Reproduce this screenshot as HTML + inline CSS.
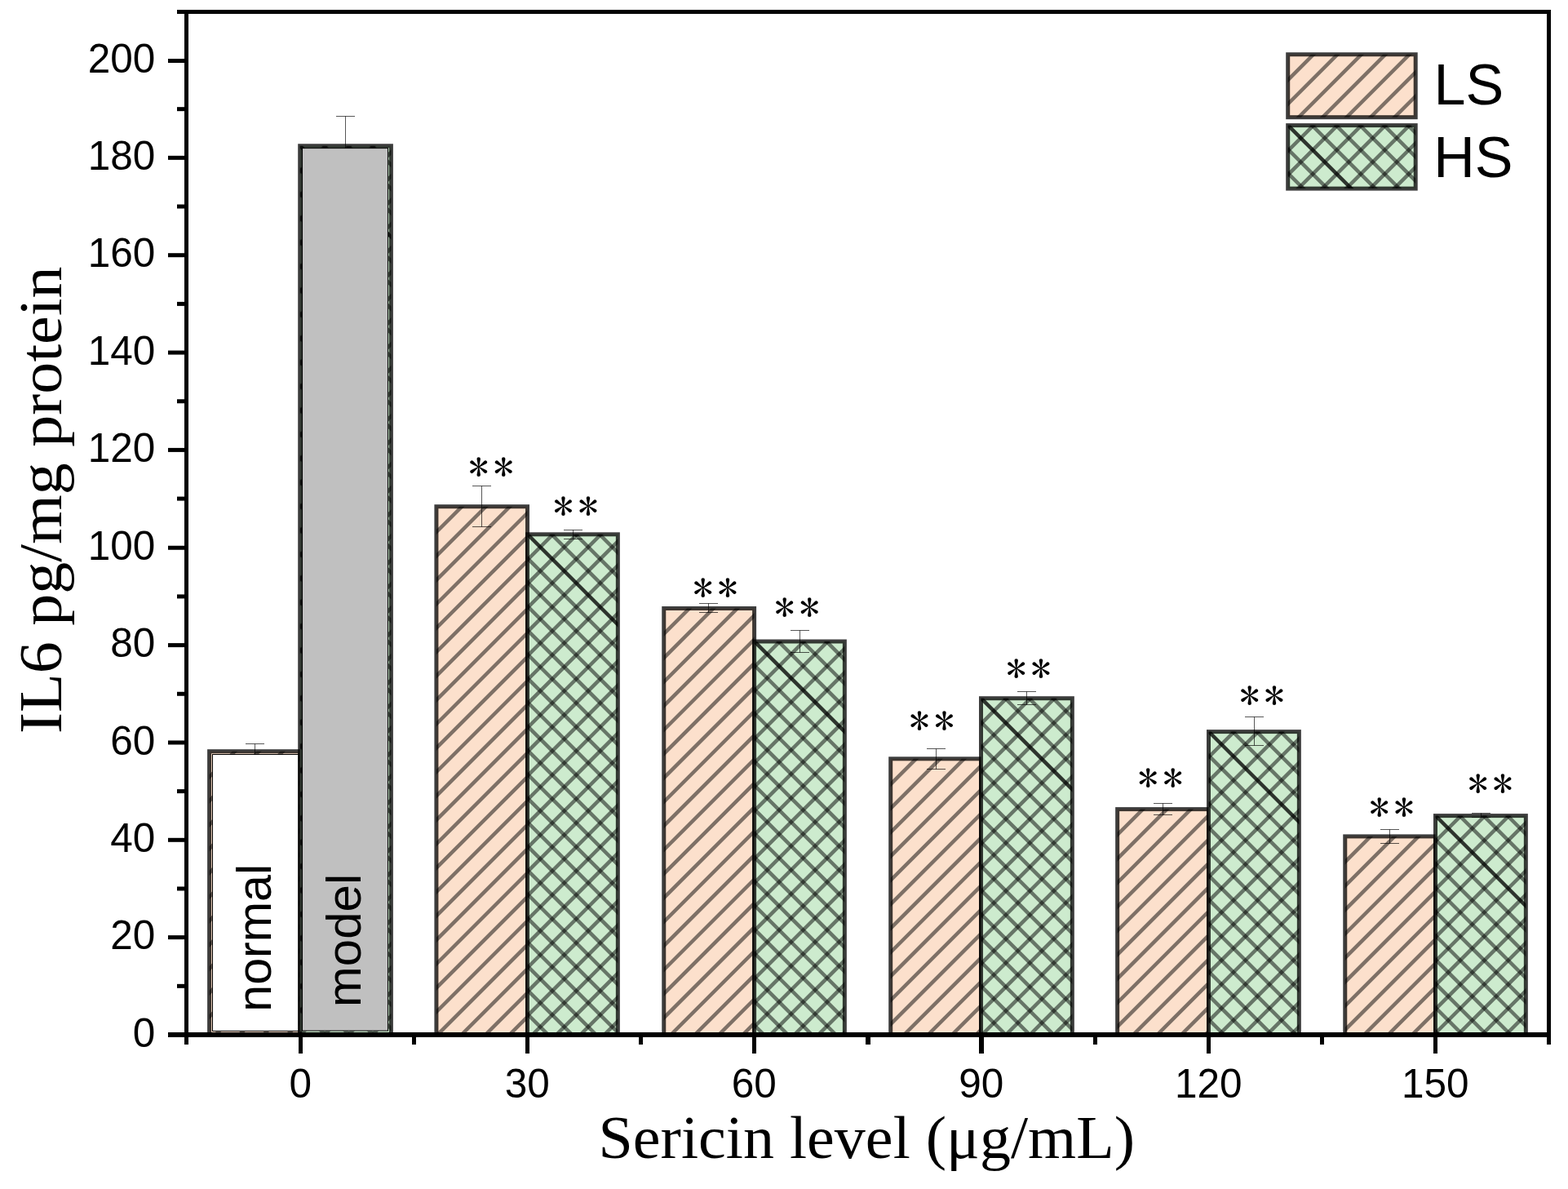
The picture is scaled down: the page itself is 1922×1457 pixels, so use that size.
<!DOCTYPE html>
<html lang="en">
<head>
<meta charset="utf-8">
<title>IL6 pg/mg protein vs Sericin level</title>
<style>
html, body { margin: 0; padding: 0; background: #fff; }
body { width: 1922px; height: 1457px; overflow: hidden; }
svg { display: block; }
</style>
</head>
<body>
<svg width="1922" height="1457" viewBox="0 0 1922 1457">
<rect width="1922" height="1457" fill="#fff"/>
<defs>
<clipPath id="c1"><rect x="256.6" y="920.7" width="111.1" height="347.3"/></clipPath>
<clipPath id="c2"><rect x="367.7" y="178.75" width="111.7" height="1089.25"/></clipPath>
<clipPath id="c3"><rect x="534.9" y="620.7" width="111.6" height="647.3"/></clipPath>
<clipPath id="c4"><rect x="646.5" y="654.8" width="110.85" height="613.2"/></clipPath>
<clipPath id="c5"><rect x="813.75" y="745.5" width="110.85" height="522.5"/></clipPath>
<clipPath id="c6"><rect x="924.6" y="786" width="110.75" height="482"/></clipPath>
<clipPath id="c7"><rect x="1091.7" y="929.8" width="110.8" height="338.2"/></clipPath>
<clipPath id="c8"><rect x="1202.5" y="855.7" width="111.85" height="412.3"/></clipPath>
<clipPath id="c9"><rect x="1369.65" y="991.6" width="111.85" height="276.4"/></clipPath>
<clipPath id="c10"><rect x="1481.5" y="896.6" width="110.85" height="371.4"/></clipPath>
<clipPath id="c11"><rect x="1648.75" y="1024.9" width="110.75" height="243.1"/></clipPath>
<clipPath id="c12"><rect x="1759.5" y="999.6" width="110.85" height="268.4"/></clipPath>
<clipPath id="c13"><rect x="1578.7" y="66.7" width="156.5" height="77"/></clipPath>
<clipPath id="c14"><rect x="1578.7" y="153.6" width="156.5" height="77.5"/></clipPath>
</defs>
<rect x="256.6" y="920.7" width="111.1" height="347.3" fill="#fce0cc"/>
<g clip-path="url(#c1)" fill="none" stroke-width="4.5"><path d="M293.9 914.7L-65.4 1274M323.3 914.7L-36 1274M352.7 914.7L-6.6 1274M382.1 914.7L22.8 1274M411.5 914.7L52.2 1274M440.9 914.7L81.6 1274M470.3 914.7L111 1274M499.7 914.7L140.4 1274M529.1 914.7L169.8 1274M558.5 914.7L199.2 1274M587.9 914.7L228.6 1274M617.3 914.7L258 1274M646.7 914.7L287.4 1274M676.1 914.7L316.8 1274M705.5 914.7L346.2 1274" stroke="rgba(0,0,0,0.5)"/>
</g>
<rect x="256.6" y="920.7" width="111.1" height="347.3" fill="none" stroke="rgba(0,0,0,0.76)" stroke-width="5.0" stroke-linejoin="miter"/>
<rect x="367.7" y="178.75" width="111.7" height="1089.25" fill="#cdebce"/>
<g clip-path="url(#c2)" fill="none" stroke-width="4.5"><path d="M405 172.75L-696.25 1274M434.4 172.75L-666.85 1274M463.8 172.75L-637.45 1274M493.2 172.75L-608.05 1274M522.6 172.75L-578.65 1274M552 172.75L-549.25 1274M581.4 172.75L-519.85 1274M610.8 172.75L-490.45 1274M640.2 172.75L-461.05 1274M669.6 172.75L-431.65 1274M699 172.75L-402.25 1274M728.4 172.75L-372.85 1274M757.8 172.75L-343.45 1274M787.2 172.75L-314.05 1274M816.6 172.75L-284.65 1274M846 172.75L-255.25 1274M875.4 172.75L-225.85 1274M904.8 172.75L-196.45 1274M934.2 172.75L-167.05 1274M963.6 172.75L-137.65 1274M993 172.75L-108.25 1274M1022.4 172.75L-78.85 1274M1051.8 172.75L-49.45 1274M1081.2 172.75L-20.05 1274M1110.6 172.75L9.35 1274M1140 172.75L38.75 1274M1169.4 172.75L68.15 1274M1198.8 172.75L97.55 1274M1228.2 172.75L126.95 1274M1257.6 172.75L156.35 1274M1287 172.75L185.75 1274M1316.4 172.75L215.15 1274M1345.8 172.75L244.55 1274M1375.2 172.75L273.95 1274M1404.6 172.75L303.35 1274M1434 172.75L332.75 1274M1463.4 172.75L362.15 1274M1492.8 172.75L391.55 1274M1522.2 172.75L420.95 1274M1551.6 172.75L450.35 1274M1581 172.75L479.75 1274" stroke="rgba(0,0,0,0.5)"/>
<path d="M-784.7 172.75L316.55 1274M-755.3 172.75L345.95 1274M-725.9 172.75L375.35 1274M-696.5 172.75L404.75 1274M-667.1 172.75L434.15 1274M-637.7 172.75L463.55 1274M-608.3 172.75L492.95 1274M-578.9 172.75L522.35 1274M-549.5 172.75L551.75 1274M-520.1 172.75L581.15 1274M-490.7 172.75L610.55 1274M-461.3 172.75L639.95 1274M-431.9 172.75L669.35 1274M-402.5 172.75L698.75 1274M-373.1 172.75L728.15 1274M-343.7 172.75L757.55 1274M-314.3 172.75L786.95 1274M-284.9 172.75L816.35 1274M-255.5 172.75L845.75 1274M-226.1 172.75L875.15 1274M-196.7 172.75L904.55 1274M-167.3 172.75L933.95 1274M-137.9 172.75L963.35 1274M-108.5 172.75L992.75 1274M-79.1 172.75L1022.15 1274M-49.7 172.75L1051.55 1274M-20.3 172.75L1080.95 1274M9.1 172.75L1110.35 1274M38.5 172.75L1139.75 1274M67.9 172.75L1169.15 1274M97.3 172.75L1198.55 1274M126.7 172.75L1227.95 1274M156.1 172.75L1257.35 1274M185.5 172.75L1286.75 1274M214.9 172.75L1316.15 1274M244.3 172.75L1345.55 1274M273.7 172.75L1374.95 1274M303.1 172.75L1404.35 1274M332.5 172.75L1433.75 1274M391.3 172.75L1492.55 1274M420.7 172.75L1521.95 1274M450.1 172.75L1551.35 1274M479.5 172.75L1580.75 1274" stroke="rgba(0,0,0,0.5)"/>
<path d="M361.9 172.75L1463.15 1274" stroke="rgba(0,0,0,0.78)"/>
</g>
<rect x="367.7" y="178.75" width="111.7" height="1089.25" fill="none" stroke="rgba(0,0,0,0.76)" stroke-width="5.0" stroke-linejoin="miter"/>
<rect x="534.9" y="620.7" width="111.6" height="647.3" fill="#fce0cc"/>
<g clip-path="url(#c3)" fill="none" stroke-width="4.5"><path d="M572.2 614.7L-87.1 1274M601.6 614.7L-57.7 1274M631 614.7L-28.3 1274M660.4 614.7L1.1 1274M689.8 614.7L30.5 1274M719.2 614.7L59.9 1274M748.6 614.7L89.3 1274M778 614.7L118.7 1274M807.4 614.7L148.1 1274M836.8 614.7L177.5 1274M866.2 614.7L206.9 1274M895.6 614.7L236.3 1274M925 614.7L265.7 1274M954.4 614.7L295.1 1274M983.8 614.7L324.5 1274M1013.2 614.7L353.9 1274M1042.6 614.7L383.3 1274M1072 614.7L412.7 1274M1101.4 614.7L442.1 1274M1130.8 614.7L471.5 1274M1160.2 614.7L500.9 1274M1189.6 614.7L530.3 1274M1219 614.7L559.7 1274M1248.4 614.7L589.1 1274M1277.8 614.7L618.5 1274M1307.2 614.7L647.9 1274" stroke="rgba(0,0,0,0.5)"/>
</g>
<rect x="534.9" y="620.7" width="111.6" height="647.3" fill="none" stroke="rgba(0,0,0,0.76)" stroke-width="5.0" stroke-linejoin="miter"/>
<rect x="646.5" y="654.8" width="110.85" height="613.2" fill="#cdebce"/>
<g clip-path="url(#c4)" fill="none" stroke-width="4.5"><path d="M683.8 648.8L58.6 1274M713.2 648.8L88 1274M742.6 648.8L117.4 1274M772 648.8L146.8 1274M801.4 648.8L176.2 1274M830.8 648.8L205.6 1274M860.2 648.8L235 1274M889.6 648.8L264.4 1274M919 648.8L293.8 1274M948.4 648.8L323.2 1274M977.8 648.8L352.6 1274M1007.2 648.8L382 1274M1036.6 648.8L411.4 1274M1066 648.8L440.8 1274M1095.4 648.8L470.2 1274M1124.8 648.8L499.6 1274M1154.2 648.8L529 1274M1183.6 648.8L558.4 1274M1213 648.8L587.8 1274M1242.4 648.8L617.2 1274M1271.8 648.8L646.6 1274M1301.2 648.8L676 1274M1330.6 648.8L705.4 1274M1360 648.8L734.8 1274" stroke="rgba(0,0,0,0.5)"/>
<path d="M-6.1 648.8L619.1 1274M23.3 648.8L648.5 1274M52.7 648.8L677.9 1274M82.1 648.8L707.3 1274M111.5 648.8L736.7 1274M140.9 648.8L766.1 1274M170.3 648.8L795.5 1274M199.7 648.8L824.9 1274M229.1 648.8L854.3 1274M258.5 648.8L883.7 1274M287.9 648.8L913.1 1274M317.3 648.8L942.5 1274M346.7 648.8L971.9 1274M376.1 648.8L1001.3 1274M405.5 648.8L1030.7 1274M434.9 648.8L1060.1 1274M464.3 648.8L1089.5 1274M493.7 648.8L1118.9 1274M523.1 648.8L1148.3 1274M552.5 648.8L1177.7 1274M581.9 648.8L1207.1 1274M611.3 648.8L1236.5 1274M670.1 648.8L1295.3 1274M699.5 648.8L1324.7 1274M728.9 648.8L1354.1 1274M758.3 648.8L1383.5 1274" stroke="rgba(0,0,0,0.5)"/>
<path d="M640.7 648.8L1265.9 1274" stroke="rgba(0,0,0,0.78)"/>
</g>
<rect x="646.5" y="654.8" width="110.85" height="613.2" fill="none" stroke="rgba(0,0,0,0.76)" stroke-width="5.0" stroke-linejoin="miter"/>
<rect x="813.75" y="745.5" width="110.85" height="522.5" fill="#fce0cc"/>
<g clip-path="url(#c5)" fill="none" stroke-width="4.5"><path d="M851.05 739.5L316.55 1274M880.45 739.5L345.95 1274M909.85 739.5L375.35 1274M939.25 739.5L404.75 1274M968.65 739.5L434.15 1274M998.05 739.5L463.55 1274M1027.45 739.5L492.95 1274M1056.85 739.5L522.35 1274M1086.25 739.5L551.75 1274M1115.65 739.5L581.15 1274M1145.05 739.5L610.55 1274M1174.45 739.5L639.95 1274M1203.85 739.5L669.35 1274M1233.25 739.5L698.75 1274M1262.65 739.5L728.15 1274M1292.05 739.5L757.55 1274M1321.45 739.5L786.95 1274M1350.85 739.5L816.35 1274M1380.25 739.5L845.75 1274M1409.65 739.5L875.15 1274M1439.05 739.5L904.55 1274" stroke="rgba(0,0,0,0.5)"/>
</g>
<rect x="813.75" y="745.5" width="110.85" height="522.5" fill="none" stroke="rgba(0,0,0,0.76)" stroke-width="5.0" stroke-linejoin="miter"/>
<rect x="924.6" y="786" width="110.75" height="482" fill="#cdebce"/>
<g clip-path="url(#c6)" fill="none" stroke-width="4.5"><path d="M961.9 780L467.9 1274M991.3 780L497.3 1274M1020.7 780L526.7 1274M1050.1 780L556.1 1274M1079.5 780L585.5 1274M1108.9 780L614.9 1274M1138.3 780L644.3 1274M1167.7 780L673.7 1274M1197.1 780L703.1 1274M1226.5 780L732.5 1274M1255.9 780L761.9 1274M1285.3 780L791.3 1274M1314.7 780L820.7 1274M1344.1 780L850.1 1274M1373.5 780L879.5 1274M1402.9 780L908.9 1274M1432.3 780L938.3 1274M1461.7 780L967.7 1274M1491.1 780L997.1 1274M1520.5 780L1026.5 1274" stroke="rgba(0,0,0,0.5)"/>
<path d="M389.6 780L883.6 1274M419 780L913 1274M448.4 780L942.4 1274M477.8 780L971.8 1274M507.2 780L1001.2 1274M536.6 780L1030.6 1274M566 780L1060 1274M595.4 780L1089.4 1274M624.8 780L1118.8 1274M654.2 780L1148.2 1274M683.6 780L1177.6 1274M713 780L1207 1274M742.4 780L1236.4 1274M771.8 780L1265.8 1274M801.2 780L1295.2 1274M830.6 780L1324.6 1274M860 780L1354 1274M889.4 780L1383.4 1274M948.2 780L1442.2 1274M977.6 780L1471.6 1274M1007 780L1501 1274M1036.4 780L1530.4 1274" stroke="rgba(0,0,0,0.5)"/>
<path d="M918.8 780L1412.8 1274" stroke="rgba(0,0,0,0.78)"/>
</g>
<rect x="924.6" y="786" width="110.75" height="482" fill="none" stroke="rgba(0,0,0,0.76)" stroke-width="5.0" stroke-linejoin="miter"/>
<rect x="1091.7" y="929.8" width="110.8" height="338.2" fill="#fce0cc"/>
<g clip-path="url(#c7)" fill="none" stroke-width="4.5"><path d="M1129 923.8L778.8 1274M1158.4 923.8L808.2 1274M1187.8 923.8L837.6 1274M1217.2 923.8L867 1274M1246.6 923.8L896.4 1274M1276 923.8L925.8 1274M1305.4 923.8L955.2 1274M1334.8 923.8L984.6 1274M1364.2 923.8L1014 1274M1393.6 923.8L1043.4 1274M1423 923.8L1072.8 1274M1452.4 923.8L1102.2 1274M1481.8 923.8L1131.6 1274M1511.2 923.8L1161 1274M1540.6 923.8L1190.4 1274" stroke="rgba(0,0,0,0.5)"/>
</g>
<rect x="1091.7" y="929.8" width="110.8" height="338.2" fill="none" stroke="rgba(0,0,0,0.76)" stroke-width="5.0" stroke-linejoin="miter"/>
<rect x="1202.5" y="855.7" width="111.85" height="412.3" fill="#cdebce"/>
<g clip-path="url(#c8)" fill="none" stroke-width="4.5"><path d="M1239.8 849.7L815.5 1274M1269.2 849.7L844.9 1274M1298.6 849.7L874.3 1274M1328 849.7L903.7 1274M1357.4 849.7L933.1 1274M1386.8 849.7L962.5 1274M1416.2 849.7L991.9 1274M1445.6 849.7L1021.3 1274M1475 849.7L1050.7 1274M1504.4 849.7L1080.1 1274M1533.8 849.7L1109.5 1274M1563.2 849.7L1138.9 1274M1592.6 849.7L1168.3 1274M1622 849.7L1197.7 1274M1651.4 849.7L1227.1 1274M1680.8 849.7L1256.5 1274M1710.2 849.7L1285.9 1274M1739.6 849.7L1315.3 1274" stroke="rgba(0,0,0,0.5)"/>
<path d="M726.3 849.7L1150.6 1274M755.7 849.7L1180 1274M785.1 849.7L1209.4 1274M814.5 849.7L1238.8 1274M843.9 849.7L1268.2 1274M873.3 849.7L1297.6 1274M902.7 849.7L1327 1274M932.1 849.7L1356.4 1274M961.5 849.7L1385.8 1274M990.9 849.7L1415.2 1274M1020.3 849.7L1444.6 1274M1049.7 849.7L1474 1274M1079.1 849.7L1503.4 1274M1108.5 849.7L1532.8 1274M1137.9 849.7L1562.2 1274M1167.3 849.7L1591.6 1274M1226.1 849.7L1650.4 1274M1255.5 849.7L1679.8 1274M1284.9 849.7L1709.2 1274M1314.3 849.7L1738.6 1274" stroke="rgba(0,0,0,0.5)"/>
<path d="M1196.7 849.7L1621 1274" stroke="rgba(0,0,0,0.78)"/>
</g>
<rect x="1202.5" y="855.7" width="111.85" height="412.3" fill="none" stroke="rgba(0,0,0,0.76)" stroke-width="5.0" stroke-linejoin="miter"/>
<rect x="1369.65" y="991.6" width="111.85" height="276.4" fill="#fce0cc"/>
<g clip-path="url(#c9)" fill="none" stroke-width="4.5"><path d="M1406.95 985.6L1118.55 1274M1436.35 985.6L1147.95 1274M1465.75 985.6L1177.35 1274M1495.15 985.6L1206.75 1274M1524.55 985.6L1236.15 1274M1553.95 985.6L1265.55 1274M1583.35 985.6L1294.95 1274M1612.75 985.6L1324.35 1274M1642.15 985.6L1353.75 1274M1671.55 985.6L1383.15 1274M1700.95 985.6L1412.55 1274M1730.35 985.6L1441.95 1274M1759.75 985.6L1471.35 1274" stroke="rgba(0,0,0,0.5)"/>
</g>
<rect x="1369.65" y="991.6" width="111.85" height="276.4" fill="none" stroke="rgba(0,0,0,0.76)" stroke-width="5.0" stroke-linejoin="miter"/>
<rect x="1481.5" y="896.6" width="110.85" height="371.4" fill="#cdebce"/>
<g clip-path="url(#c10)" fill="none" stroke-width="4.5"><path d="M1518.8 890.6L1135.4 1274M1548.2 890.6L1164.8 1274M1577.6 890.6L1194.2 1274M1607 890.6L1223.6 1274M1636.4 890.6L1253 1274M1665.8 890.6L1282.4 1274M1695.2 890.6L1311.8 1274M1724.6 890.6L1341.2 1274M1754 890.6L1370.6 1274M1783.4 890.6L1400 1274M1812.8 890.6L1429.4 1274M1842.2 890.6L1458.8 1274M1871.6 890.6L1488.2 1274M1901 890.6L1517.6 1274M1930.4 890.6L1547 1274M1959.8 890.6L1576.4 1274" stroke="rgba(0,0,0,0.5)"/>
<path d="M1064.1 890.6L1447.5 1274M1093.5 890.6L1476.9 1274M1122.9 890.6L1506.3 1274M1152.3 890.6L1535.7 1274M1181.7 890.6L1565.1 1274M1211.1 890.6L1594.5 1274M1240.5 890.6L1623.9 1274M1269.9 890.6L1653.3 1274M1299.3 890.6L1682.7 1274M1328.7 890.6L1712.1 1274M1358.1 890.6L1741.5 1274M1387.5 890.6L1770.9 1274M1416.9 890.6L1800.3 1274M1446.3 890.6L1829.7 1274M1505.1 890.6L1888.5 1274M1534.5 890.6L1917.9 1274M1563.9 890.6L1947.3 1274M1593.3 890.6L1976.7 1274" stroke="rgba(0,0,0,0.5)"/>
<path d="M1475.7 890.6L1859.1 1274" stroke="rgba(0,0,0,0.78)"/>
</g>
<rect x="1481.5" y="896.6" width="110.85" height="371.4" fill="none" stroke="rgba(0,0,0,0.76)" stroke-width="5.0" stroke-linejoin="miter"/>
<rect x="1648.75" y="1024.9" width="110.75" height="243.1" fill="#fce0cc"/>
<g clip-path="url(#c11)" fill="none" stroke-width="4.5"><path d="M1686.05 1018.9L1430.95 1274M1715.45 1018.9L1460.35 1274M1744.85 1018.9L1489.75 1274M1774.25 1018.9L1519.15 1274M1803.65 1018.9L1548.55 1274M1833.05 1018.9L1577.95 1274M1862.45 1018.9L1607.35 1274M1891.85 1018.9L1636.75 1274M1921.25 1018.9L1666.15 1274M1950.65 1018.9L1695.55 1274M1980.05 1018.9L1724.95 1274M2009.45 1018.9L1754.35 1274" stroke="rgba(0,0,0,0.5)"/>
</g>
<rect x="1648.75" y="1024.9" width="110.75" height="243.1" fill="none" stroke="rgba(0,0,0,0.76)" stroke-width="5.0" stroke-linejoin="miter"/>
<rect x="1759.5" y="999.6" width="110.85" height="268.4" fill="#cdebce"/>
<g clip-path="url(#c12)" fill="none" stroke-width="4.5"><path d="M1796.8 993.6L1516.4 1274M1826.2 993.6L1545.8 1274M1855.6 993.6L1575.2 1274M1885 993.6L1604.6 1274M1914.4 993.6L1634 1274M1943.8 993.6L1663.4 1274M1973.2 993.6L1692.8 1274M2002.6 993.6L1722.2 1274M2032 993.6L1751.6 1274M2061.4 993.6L1781 1274M2090.8 993.6L1810.4 1274M2120.2 993.6L1839.8 1274M2149.6 993.6L1869.2 1274" stroke="rgba(0,0,0,0.5)"/>
<path d="M1430.3 993.6L1710.7 1274M1459.7 993.6L1740.1 1274M1489.1 993.6L1769.5 1274M1518.5 993.6L1798.9 1274M1547.9 993.6L1828.3 1274M1577.3 993.6L1857.7 1274M1606.7 993.6L1887.1 1274M1636.1 993.6L1916.5 1274M1665.5 993.6L1945.9 1274M1694.9 993.6L1975.3 1274M1724.3 993.6L2004.7 1274M1783.1 993.6L2063.5 1274M1812.5 993.6L2092.9 1274M1841.9 993.6L2122.3 1274M1871.3 993.6L2151.7 1274" stroke="rgba(0,0,0,0.5)"/>
<path d="M1753.7 993.6L2034.1 1274" stroke="rgba(0,0,0,0.78)"/>
</g>
<rect x="1759.5" y="999.6" width="110.85" height="268.4" fill="none" stroke="rgba(0,0,0,0.76)" stroke-width="5.0" stroke-linejoin="miter"/>
<path d="M301 911.5H324M301 930.5H324M312.5 911.5V930.5" stroke="#000" stroke-opacity="0.66" stroke-width="1" fill="none"/>
<path d="M412 142.5H435M412 215.5H435M423.5 142.5V215.5" stroke="#000" stroke-opacity="0.66" stroke-width="1" fill="none"/>
<path d="M579 595.5H602M579 645.5H602M590.5 595.5V645.5" stroke="#000" stroke-opacity="0.66" stroke-width="1" fill="none"/>
<path d="M691 649.5H714M691 660.5H714M702.5 649.5V660.5" stroke="#000" stroke-opacity="0.66" stroke-width="1" fill="none"/>
<path d="M857 739.5H880M857 750.5H880M868.5 739.5V750.5" stroke="#000" stroke-opacity="0.66" stroke-width="1" fill="none"/>
<path d="M969 772.5H992M969 799.5H992M980.5 772.5V799.5" stroke="#000" stroke-opacity="0.66" stroke-width="1" fill="none"/>
<path d="M1136 917.5H1159M1136 942.5H1159M1147.5 917.5V942.5" stroke="#000" stroke-opacity="0.66" stroke-width="1" fill="none"/>
<path d="M1247 847.5H1270M1247 863.5H1270M1258.5 847.5V863.5" stroke="#000" stroke-opacity="0.66" stroke-width="1" fill="none"/>
<path d="M1414 984.5H1437M1414 998.5H1437M1425.5 984.5V998.5" stroke="#000" stroke-opacity="0.66" stroke-width="1" fill="none"/>
<path d="M1526 878.5H1549M1526 913.5H1549M1537.5 878.5V913.5" stroke="#000" stroke-opacity="0.66" stroke-width="1" fill="none"/>
<path d="M1692 1016.5H1715M1692 1033.5H1715M1703.5 1016.5V1033.5" stroke="#000" stroke-opacity="0.66" stroke-width="1" fill="none"/>
<path d="M1804 996.5H1827M1804 1001.5H1827M1815.5 996.5V1001.5" stroke="#000" stroke-opacity="0.66" stroke-width="1" fill="none"/>
<rect x="260.5" y="924.5" width="105.2" height="338.9" fill="#fff" stroke="#000" stroke-width="1"/>
<rect x="370.5" y="181.6" width="105" height="1081.5" fill="#c0c0c0" stroke="#000" stroke-width="1"/>
<g fill="#000">
<rect x="217" y="12" width="1684" height="5"/>
<rect x="226" y="12" width="5" height="1268"/>
<rect x="1896" y="12" width="5" height="1268"/>
<rect x="206" y="1265" width="1695" height="6"/>
<rect x="206" y="1146.15" width="21" height="5"/>
<rect x="206" y="1026.8" width="21" height="5"/>
<rect x="206" y="907.45" width="21" height="5"/>
<rect x="206" y="788.1" width="21" height="5"/>
<rect x="206" y="668.75" width="21" height="5"/>
<rect x="206" y="548.9" width="21" height="5"/>
<rect x="206" y="429.55" width="21" height="5"/>
<rect x="206" y="310.2" width="21" height="5"/>
<rect x="206" y="190.85" width="21" height="5"/>
<rect x="206" y="72" width="21" height="5"/>
<rect x="217" y="1205.83" width="10" height="5"/>
<rect x="217" y="1086.47" width="10" height="5"/>
<rect x="217" y="967.12" width="10" height="5"/>
<rect x="217" y="847.77" width="10" height="5"/>
<rect x="217" y="728.42" width="10" height="5"/>
<rect x="217" y="608.57" width="10" height="5"/>
<rect x="217" y="489.23" width="10" height="5"/>
<rect x="217" y="369.88" width="10" height="5"/>
<rect x="217" y="250.52" width="10" height="5"/>
<rect x="217" y="131.17" width="10" height="5"/>
<rect x="366" y="1268" width="5" height="23"/>
<rect x="644" y="1268" width="5" height="23"/>
<rect x="922" y="1268" width="5" height="23"/>
<rect x="1200" y="1268" width="6" height="23"/>
<rect x="1479" y="1268" width="5" height="23"/>
<rect x="1757" y="1268" width="5" height="23"/>
<rect x="505" y="1268" width="5" height="12"/>
<rect x="783" y="1268" width="5" height="12"/>
<rect x="1061" y="1268" width="6" height="12"/>
<rect x="1340" y="1268" width="5" height="12"/>
<rect x="1618" y="1268" width="5" height="12"/>
</g>
<g font-family="'Liberation Sans', Arial, sans-serif" font-size="49.5" fill="#000">
<text x="190.3" y="1282.6" text-anchor="end">0</text>
<text x="190.3" y="1163.25" text-anchor="end">20</text>
<text x="190.3" y="1043.9" text-anchor="end">40</text>
<text x="190.3" y="924.55" text-anchor="end">60</text>
<text x="190.3" y="805.2" text-anchor="end">80</text>
<text x="190.3" y="685.85" text-anchor="end">100</text>
<text x="190.3" y="566" text-anchor="end">120</text>
<text x="190.3" y="446.65" text-anchor="end">140</text>
<text x="190.3" y="327.3" text-anchor="end">160</text>
<text x="190.3" y="207.95" text-anchor="end">180</text>
<text x="190.3" y="89.1" text-anchor="end">200</text>
<text x="368.2" y="1344.6" text-anchor="middle">0</text>
<text x="646.2" y="1344.6" text-anchor="middle">30</text>
<text x="924.2" y="1344.6" text-anchor="middle">60</text>
<text x="1202.7" y="1344.6" text-anchor="middle">90</text>
<text x="1481.2" y="1344.6" text-anchor="middle">120</text>
<text x="1759.2" y="1344.6" text-anchor="middle">150</text>
</g>
<g font-family="'Liberation Sans', Arial, sans-serif" font-size="60" fill="#000"><text transform="translate(331.9 1239.8) rotate(-90)" textLength="181" lengthAdjust="spacingAndGlyphs">normal</text><text transform="translate(442.2 1234.2) rotate(-90)">model</text></g>
<g font-family="'Liberation Serif', 'Times New Roman', serif" font-size="74" fill="#000"><text transform="translate(74.7 899) rotate(-90)" textLength="572.5" lengthAdjust="spacingAndGlyphs">IL6 pg/mg protein</text><text x="733.5" y="1418.8" textLength="657.5" lengthAdjust="spacingAndGlyphs">Sericin level (μg/mL)</text></g>
<g font-family="IPAGothic, 'Liberation Serif', serif" font-size="48" fill="#000" text-anchor="middle" letter-spacing="5.2">
<text transform="translate(604.7 589.8) scale(1.04 1)">**</text>
<text transform="translate(708.45 637.9) scale(1.04 1)">**</text>
<text transform="translate(879.55 737.7) scale(1.04 1)">**</text>
<text transform="translate(979.65 761.8) scale(1.04 1)">**</text>
<text transform="translate(1144.95 900.7) scale(1.04 1)">**</text>
<text transform="translate(1263.6 836.6) scale(1.04 1)">**</text>
<text transform="translate(1425.15 970.8) scale(1.04 1)">**</text>
<text transform="translate(1549.6 869.8) scale(1.04 1)">**</text>
<text transform="translate(1708.5 1006.8) scale(1.04 1)">**</text>
<text transform="translate(1829.6 977.6) scale(1.04 1)">**</text>
</g>
<rect x="1578.7" y="66.7" width="156.5" height="77" fill="#fce0cc"/>
<g clip-path="url(#c13)" fill="none" stroke-width="4.5"><path d="M1616 60.7L1527 149.7M1645.4 60.7L1556.4 149.7M1674.8 60.7L1585.8 149.7M1704.2 60.7L1615.2 149.7M1733.6 60.7L1644.6 149.7M1763 60.7L1674 149.7M1792.4 60.7L1703.4 149.7M1821.8 60.7L1732.8 149.7" stroke="rgba(0,0,0,0.5)"/>
</g>
<rect x="1578.7" y="66.7" width="156.5" height="77" fill="none" stroke="rgba(0,0,0,0.76)" stroke-width="5.0" stroke-linejoin="miter"/>
<rect x="1578.7" y="153.6" width="156.5" height="77.5" fill="#cdebce"/>
<g clip-path="url(#c14)" fill="none" stroke-width="4.5"><path d="M1616 147.6L1526.5 237.1M1645.4 147.6L1555.9 237.1M1674.8 147.6L1585.3 237.1M1704.2 147.6L1614.7 237.1M1733.6 147.6L1644.1 237.1M1763 147.6L1673.5 237.1M1792.4 147.6L1702.9 237.1M1821.8 147.6L1732.3 237.1" stroke="rgba(0,0,0,0.5)"/>
<path d="M1455.3 147.6L1544.8 237.1M1484.7 147.6L1574.2 237.1M1514.1 147.6L1603.6 237.1M1543.5 147.6L1633 237.1M1602.3 147.6L1691.8 237.1M1631.7 147.6L1721.2 237.1M1661.1 147.6L1750.6 237.1M1690.5 147.6L1780 237.1M1719.9 147.6L1809.4 237.1" stroke="rgba(0,0,0,0.5)"/>
<path d="M1572.9 147.6L1662.4 237.1" stroke="rgba(0,0,0,0.78)"/>
</g>
<rect x="1578.7" y="153.6" width="156.5" height="77.5" fill="none" stroke="rgba(0,0,0,0.76)" stroke-width="5.0" stroke-linejoin="miter"/>
<g font-family="'Liberation Sans', Arial, sans-serif" font-size="70" fill="#000"><text x="1757.6" y="128.3">LS</text><text x="1757.2" y="216.5">HS</text></g>
</svg>
</body>
</html>
